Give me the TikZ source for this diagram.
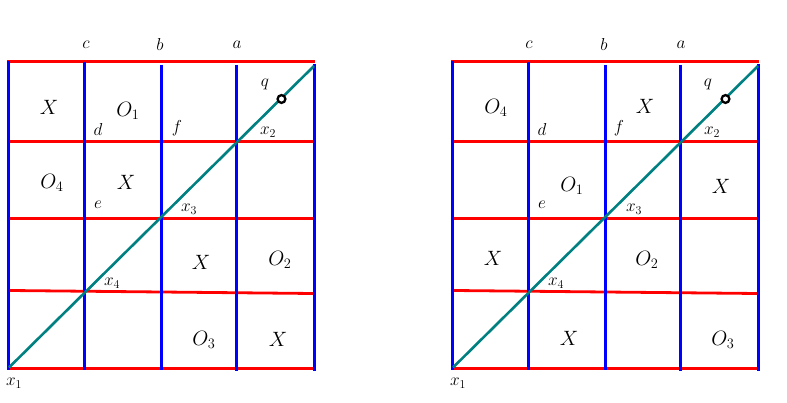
\documentclass[tikz,border=0pt]{standalone}
\usepackage{xcolor}
\definecolor{gred}{RGB}{255,0,0}
\definecolor{gblue}{RGB}{0,0,255}
\definecolor{gteal}{RGB}{0,128,128}
\newcommand{\gridcoords}[2]{%
  \coordinate (#1vat) at (#2+8.5,61);   \coordinate (#1vab) at (#2+8.5,370);
  \coordinate (#1vbt) at (#2+84.5,62);  \coordinate (#1vbb) at (#2+84.5,370);
  \coordinate (#1vct) at (#2+161.5,65); \coordinate (#1vcb) at (#2+161.5,370);
  \coordinate (#1vdt) at (#2+236.5,65); \coordinate (#1vdb) at (#2+236.5,371);
  \coordinate (#1vet) at (#2+314.5,64); \coordinate (#1veb) at (#2+314.5,371);
  \coordinate (#1hal) at (#2+7,61.5);   \coordinate (#1har) at (#2+314.5,61.5);
  \coordinate (#1hbl) at (#2+10,141.5); \coordinate (#1hbr) at (#2+313,141.5);
  \coordinate (#1hcl) at (#2+10,218.5); \coordinate (#1hcr) at (#2+313,218.5);
  \coordinate (#1hdl) at (#2+10,290.5); \coordinate (#1hdr) at (#2+313,293.5);
  \coordinate (#1hel) at (#2+9,368.5);  \coordinate (#1her) at (#2+314,368.5);
  \coordinate (#1dl) at (#2+9,367.5);   \coordinate (#1dr) at (#2+314,66);
  \draw[redline] (#1hal) -- (#1har);
  \draw[redline] (#1hbl) -- (#1hbr);
  \draw[redline] (#1hcl) -- (#1hcr);
  \draw[redline] (#1hdl) -- (#1hdr);
  \draw[redline] (#1hel) -- (#1her);
  \draw[blueline] (#1vat) -- (#1vab);
  \draw[blueline] (#1vbt) -- (#1vbb);
  \draw[blueline] (#1vct) -- (#1vcb);
  \draw[blueline] (#1vdt) -- (#1vdb);
  \draw[blueline] (#1vet) -- (#1veb);
  \draw[tealline] (#1dl) -- (#1dr);
  \node[qmark] (#1q) at (#2+281.5,99) {};
}
\begin{document}
\begin{tikzpicture}[x=1pt,y=-1pt,
  redline/.style={draw=gred,line width=2.8pt},
  blueline/.style={draw=gblue,line width=2.8pt},
  tealline/.style={draw=gteal,line width=2.6pt},
  qmark/.style={circle,draw=black,fill=white,line width=2.3pt,inner sep=0pt,minimum size=7.8pt},
  lbl/.style={inner sep=0pt,font=\fontsize{22}{26}\selectfont},
  sml/.style={inner sep=0pt,font=\fontsize{18}{22}\selectfont}]
\useasboundingbox (0,0) rectangle (787,403);
\gridcoords{L}{0}
\gridcoords{R}{444}
% left labels
\node[sml] (Lc) at (86,45) {$c$};
\node[sml] (Lb) at (160,45) {$b$};
\node[sml] (La) at (237,45) {$a$};
\node[lbl] (LX1) at (49,107) {$X$};
\node[lbl] (LO1) at (128,111) {$O_1$};
\node[lbl] (LO4) at (52,183) {$O_4$};
\node[lbl] (LX2) at (126,182) {$X$};
\node[lbl] (LX3) at (201,262) {$X$};
\node[lbl] (LO2) at (280,260) {$O_2$};
\node[lbl] (LO3) at (204,340) {$O_3$};
\node[lbl] (LX4) at (278,339) {$X$};
\node[sml] (Lql) at (265,84) {$q$};
\node[sml] (Lx2) at (268,132) {$x_2$};
\node[sml] (Ld) at (98,130) {$d$};
\node[sml] (Lf) at (177,128) {$f$};
\node[sml] (Lx3) at (189,209) {$x_3$};
\node[sml] (Le) at (98,205) {$e$};
\node[sml] (Lx4) at (112,283) {$x_4$};
\node[sml] (Lx1) at (14,383) {$x_1$};
% right labels
\node[sml] (Rc) at (529,45) {$c$};
\node[sml] (Rb) at (604,45) {$b$};
\node[sml] (Ra) at (681,45) {$a$};
\node[lbl] (RO4) at (496,108) {$O_4$};
\node[lbl] (RX1) at (645,106) {$X$};
\node[lbl] (RO1) at (572,186) {$O_1$};
\node[lbl] (RX2) at (721,186) {$X$};
\node[lbl] (RX3) at (493,258) {$X$};
\node[lbl] (RO2) at (647,260) {$O_2$};
\node[lbl] (RX4) at (569,338) {$X$};
\node[lbl] (RO3) at (723,340) {$O_3$};
\node[sml] (Rql) at (708,84) {$q$};
\node[sml] (Rx2) at (712,132) {$x_2$};
\node[sml] (Rd) at (542,130) {$d$};
\node[sml] (Rf) at (619,128) {$f$};
\node[sml] (Rx3) at (634,209) {$x_3$};
\node[sml] (Re) at (542,205) {$e$};
\node[sml] (Rx4) at (556,283) {$x_4$};
\node[sml] (Rx1) at (458,383) {$x_1$};
\end{tikzpicture}
\end{document}
